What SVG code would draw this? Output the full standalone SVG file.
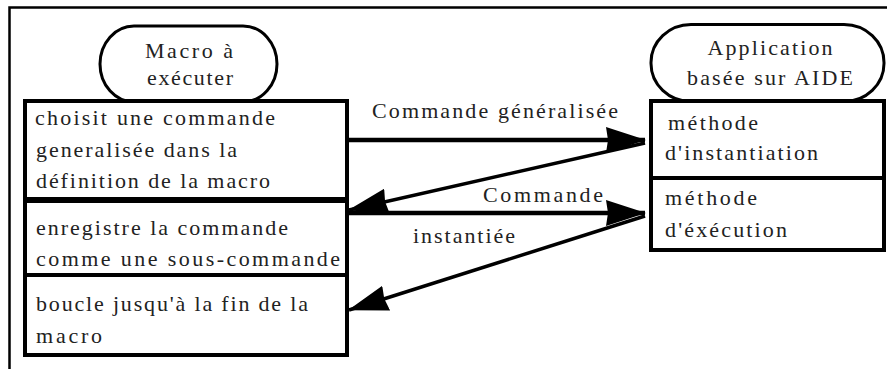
<svg xmlns="http://www.w3.org/2000/svg" width="887" height="369" viewBox="0 0 887 369" font-family="Liberation Serif, Times New Roman, serif">
<defs>
<style>
text{font-family:"Liberation Serif","Times New Roman",serif;font-size:22px;fill:#222;}
.m{text-anchor:middle;}
.box{fill:#fff;stroke:#000;stroke-width:4;}
.pill{fill:#fff;stroke:#000;stroke-width:3;}
.ln{stroke:#000;fill:none;}
.h{stroke-width:4.5;}
.d{stroke-width:3.5;}
</style>
<marker id="ah" markerUnits="userSpaceOnUse" viewBox="0 0 40 26" markerWidth="40" markerHeight="26" refX="39" refY="13" orient="auto">
<path d="M0,0 L40,13 L0,26 L2,13 z" fill="#000"/>
</marker>
</defs>
<rect width="887" height="369" fill="#fff"/>
<g id="frame">
<path class="ln" d="M9.5,369 V7.5 H887" stroke-width="2.5"/>
</g>
<g id="macro">
<rect class="pill" x="100" y="26" width="177" height="76" rx="34" ry="38"/>
<text class="m" x="189" y="58" textLength="88" lengthAdjust="spacing">Macro à</text>
<text class="m" x="190" y="85" textLength="86" lengthAdjust="spacing">exécuter</text>
</g>
<g id="step1">
<rect class="box" x="25" y="101" width="322" height="98"/>
<text x="35" y="125" textLength="240" lengthAdjust="spacing">choisit une commande</text>
<text x="36" y="157" textLength="201" lengthAdjust="spacing">generalisée dans la</text>
<text x="36" y="188" textLength="234" lengthAdjust="spacing">définition de la macro</text>
</g>
<g id="step2">
<rect class="box" x="25" y="201" width="322" height="74"/>
<text x="36" y="235" textLength="252" lengthAdjust="spacing">enregistre la commande</text>
<text x="36" y="266" textLength="304" lengthAdjust="spacing">comme une sous-commande</text>
</g>
<g id="step3">
<rect class="box" x="25" y="275" width="322" height="80"/>
<text x="36" y="311" textLength="272" lengthAdjust="spacing">boucle jusqu'à la fin de la</text>
<text x="36" y="343" textLength="66" lengthAdjust="spacing">macro</text>
</g>
<g id="app">
<rect class="pill" x="651" y="24.5" width="233" height="77" rx="40" ry="38"/>
<text class="m" x="770" y="55" textLength="125" lengthAdjust="spacing">Application</text>
<text class="m" x="770" y="85" textLength="166" lengthAdjust="spacing">basée sur AIDE</text>
</g>
<g id="inst">
<rect class="box" x="651" y="101" width="233" height="77"/>
<text x="668" y="130" textLength="90" lengthAdjust="spacing">méthode</text>
<text x="665" y="160" textLength="153" lengthAdjust="spacing">d'instantiation</text>
</g>
<g id="exec">
<rect class="box" x="651" y="178" width="233" height="72"/>
<text x="665" y="205" textLength="92" lengthAdjust="spacing">méthode</text>
<text x="665" y="237" textLength="122" lengthAdjust="spacing">d'éxécution</text>
</g>
<g id="connectors">
<line class="ln h" x1="349" y1="140" x2="645" y2="140" marker-end="url(#ah)"/>
<line class="ln d" x1="645" y1="143" x2="349" y2="210" marker-end="url(#ah)"/>
<line class="ln h" x1="349" y1="213" x2="645" y2="213" marker-end="url(#ah)"/>
<line class="ln d" x1="645" y1="216" x2="349" y2="310" marker-end="url(#ah)"/>
<text x="372" y="118" textLength="246" lengthAdjust="spacing">Commande généralisée</text>
<text x="483" y="202" textLength="120" lengthAdjust="spacing">Commande</text>
<text x="413" y="243" textLength="102" lengthAdjust="spacing">instantiée</text>
</g>
</svg>
